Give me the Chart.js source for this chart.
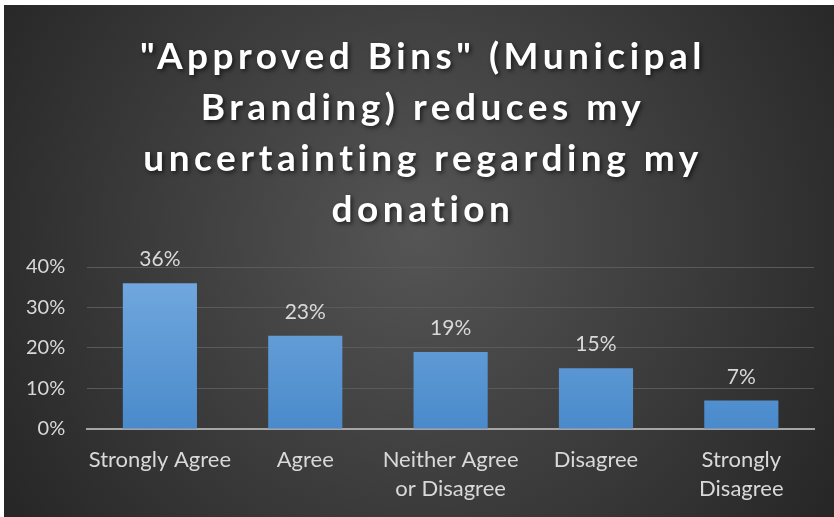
<!DOCTYPE html>
<html lang="en">
  <head>
    <meta charset="UTF-8" />
    <title>Approved Bins survey</title>
    <script src="https://cdn.jsdelivr.net/npm/chart.js"></script>
    <style>
      html, body { margin: 0; padding: 0; background: #ffffff; }
      #wrap { position: absolute; left: 4px; top: 5px; width: 830px; height: 512px; }
    </style>
  </head>
  <body>
    <div id="wrap"><canvas id="surveyChart"></canvas></div>

    <script>
      // chart data
      const categories = [
        ["Strongly Agree"],
        ["Agree"],
        ["Neither Agree", "or Disagree"],
        ["Disagree"],
        ["Strongly", "Disagree"],
      ];
      const percentages = [36, 23, 19, 15, 7];
      const yTicks = [0, 10, 20, 30, 40];
      const titleLines = [
        '"Approved Bins" (Municipal',
        "Branding) reduces my",
        "uncertainting regarding my",
        "donation",
      ];

      const FONT = "Lato, 'Open Sans', sans-serif";

      // dark radial background like the office theme
      const backgroundPlugin = {
        id: "bg",
        beforeDraw(chart) {
          const { ctx, width, height } = chart;
          const g = ctx.createRadialGradient(width / 2, height * 0.45, 0, width / 2, height * 0.45, width * 0.6);
          g.addColorStop(0, "#555555");
          g.addColorStop(1, "#262626");
          ctx.save();
          ctx.fillStyle = g;
          ctx.fillRect(0, 0, width, height);
          ctx.restore();
        },
      };

      // title with letter spacing and a soft shadow
      const titlePlugin = {
        id: "bigTitle",
        afterDraw(chart) {
          const { ctx, width } = chart;
          ctx.save();
          ctx.font = "bold 37px " + FONT;
          ctx.letterSpacing = "4.5px";
          ctx.fillStyle = "#ffffff";
          ctx.textAlign = "center";
          ctx.textBaseline = "middle";
          ctx.shadowColor = "rgba(0,0,0,0.6)";
          ctx.shadowBlur = 4;
          ctx.shadowOffsetX = 2;
          ctx.shadowOffsetY = 2;
          titleLines.forEach((line, i) => {
            ctx.fillText(line, width / 2 + 4, 52 + i * 51);
          });
          ctx.restore();
        },
      };

      // value labels above the bars
      const valueLabels = {
        id: "valueLabels",
        afterDatasetsDraw(chart) {
          const { ctx } = chart;
          const meta = chart.getDatasetMeta(0);
          ctx.save();
          ctx.font = "21px " + FONT;
          ctx.fillStyle = "#d9d9d9";
          ctx.textAlign = "center";
          ctx.textBaseline = "alphabetic";
          meta.data.forEach((bar, i) => {
            ctx.fillText(percentages[i] + "%", bar.x, bar.y - 17);
          });
          ctx.restore();
        },
      };

      const ctx = document.getElementById("surveyChart").getContext("2d");

      function barGradient(context) {
        const area = context.chart.chartArea;
        if (!area) return "#5b9bd5";
        const g = context.chart.ctx.createLinearGradient(0, area.top, 0, area.bottom);
        g.addColorStop(0, "#74aae0");
        g.addColorStop(1, "#4a8acb");
        return g;
      }

      new Chart(ctx, {
        type: "bar",
        data: {
          labels: categories,
          datasets: [
            {
              data: percentages,
              backgroundColor: barGradient,
              borderWidth: 0,
              categoryPercentage: 1,
              barPercentage: 0.51,
            },
          ],
        },
        options: {
          responsive: true,
          maintainAspectRatio: false,
          animation: false,
          layout: { padding: { top: 262, left: 0, right: 20, bottom: -2 } },
          plugins: {
            legend: { display: false },
            tooltip: { enabled: false },
          },
          scales: {
            x: {
              grid: { display: false, drawTicks: false },
              border: { color: "#a6a6a6", width: 2 },
              ticks: {
                color: "#d9d9d9",
                font: { family: FONT, size: 22, lineHeight: 1.32 },
                padding: 16,
                maxRotation: 0,
                autoSkip: false,
              },
            },
            y: {
              min: 0,
              max: 40,
              afterBuildTicks(axis) {
                axis.ticks = yTicks.map((v) => ({ value: v }));
              },
              grid: { color: "#5a5a5a", lineWidth: 1, drawTicks: false },
              border: { display: false },
              ticks: {
                color: "#d9d9d9",
                font: { family: FONT, size: 20 },
                padding: 22,
                callback: (v) => v + "%",
              },
            },
          },
        },
        plugins: [backgroundPlugin, titlePlugin, valueLabels],
      });
    </script>
  </body>
</html>
